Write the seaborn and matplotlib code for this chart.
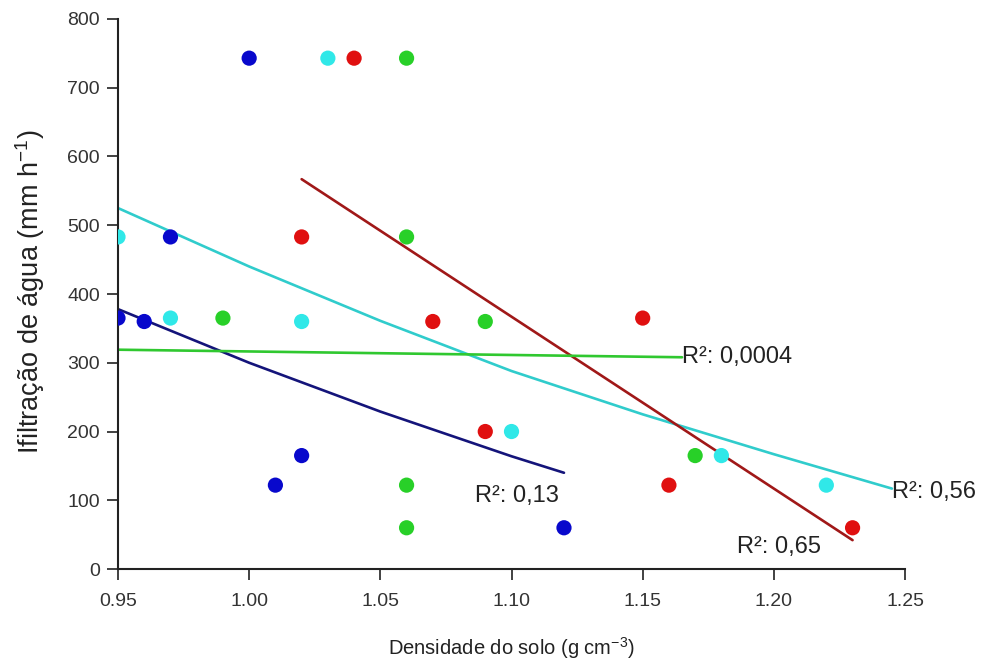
import pandas as pd
import matplotlib
matplotlib.use("Agg")
import matplotlib.pyplot as plt
import seaborn as sns

# observed points per group
blue_x = [0.95, 0.96, 0.97, 1.00, 1.01, 1.02, 1.12]
blue_y = [365, 360, 483, 743, 122, 165, 60]
cyan_x = [0.95, 0.97, 1.02, 1.03, 1.10, 1.18, 1.22]
cyan_y = [483, 365, 360, 743, 200, 165, 122]
red_x = [1.02, 1.04, 1.07, 1.09, 1.15, 1.16, 1.23]
red_y = [483, 743, 360, 200, 365, 122, 60]
green_x = [0.99, 1.06, 1.06, 1.06, 1.06, 1.09, 1.17]
green_y = [365, 743, 483, 122, 60, 360, 165]

# trend lines
blue_fit_x = [0.95, 1.00, 1.05, 1.10, 1.12]
blue_fit_y = [378, 300, 229, 164, 140]
cyan_fit_x = [0.95, 1.00, 1.05, 1.10, 1.15, 1.20, 1.245]
cyan_fit_y = [525, 440, 361, 288, 225, 167, 117]
red_fit_x = [1.02, 1.23]
red_fit_y = [567, 42]
green_fit_x = [0.95, 1.165]
green_fit_y = [319, 308]

r2_labels = ["R²: 0,13", "R²: 0,56", "R²: 0,65", "R²: 0,0004"]
r2_x = [1.086, 1.245, 1.186, 1.165]
r2_y = [106, 112, 32, 308]

groups = ["azul", "ciano", "vermelho", "verde"]
point_colors = {"azul": "#0808cc", "ciano": "#30e8e8", "vermelho": "#e01010", "verde": "#28d028"}
line_colors = {"azul": "#14147a", "ciano": "#30cccc", "vermelho": "#a01818", "verde": "#30c830"}

pts = pd.concat([
    pd.DataFrame({"x": blue_x, "y": blue_y, "g": "azul"}),
    pd.DataFrame({"x": cyan_x, "y": cyan_y, "g": "ciano"}),
    pd.DataFrame({"x": red_x, "y": red_y, "g": "vermelho"}),
    pd.DataFrame({"x": green_x, "y": green_y, "g": "verde"}),
], ignore_index=True)

fits = pd.concat([
    pd.DataFrame({"x": blue_fit_x, "y": blue_fit_y, "g": "azul"}),
    pd.DataFrame({"x": cyan_fit_x, "y": cyan_fit_y, "g": "ciano"}),
    pd.DataFrame({"x": red_fit_x, "y": red_fit_y, "g": "vermelho"}),
    pd.DataFrame({"x": green_fit_x, "y": green_fit_y, "g": "verde"}),
], ignore_index=True)

sns.set_style("ticks")
plt.rcParams["font.family"] = ["Liberation Sans", "DejaVu Sans"]
plt.rcParams["mathtext.default"] = "regular"

fig = plt.figure(figsize=(9.89, 6.66), dpi=100)
ax = fig.add_axes([0.1193, 0.1456, 0.7958, 0.8259])

sns.lineplot(data=fits, x="x", y="y", hue="g", palette=line_colors, hue_order=groups,
             linewidth=1.9, legend=False, ax=ax, sort=False, estimator=None)
sns.scatterplot(data=pts, x="x", y="y", hue="g", palette=point_colors, hue_order=groups,
                s=120, edgecolor="none", legend=False, ax=ax, zorder=3)

for txt, tx, ty in zip(r2_labels, r2_x, r2_y):
    ax.text(tx, ty, txt, fontsize=17, color="#222222", ha="left", va="center")

ax.set_xlim(0.95, 1.25)
ax.set_ylim(0, 800)
ax.set_xticks([0.95, 1.00, 1.05, 1.10, 1.15, 1.20, 1.25])
ax.set_xticklabels(["0.95", "1.00", "1.05", "1.10", "1.15", "1.20", "1.25"])
ax.set_yticks(range(0, 801, 100))
ax.tick_params(axis="both", labelsize=14, colors="#333333", length=8, width=1.3, pad=5)
ax.tick_params(axis="x", pad=9)
for side in ["left", "bottom"]:
    ax.spines[side].set_color("#222222")
    ax.spines[side].set_linewidth(1.5)
sns.despine(ax=ax)
for sp in ax.spines.values():
    sp.set_clip_on(False)

ax.set_xlabel("Densidade do solo (g cm$^{-3}$)", fontsize=14.5, color="#222222")
ax.set_ylabel("Ifiltração de água (mm h$^{-1}$)", fontsize=19.5, color="#222222")
ax.xaxis.set_label_coords(0.5, -0.12)
ax.yaxis.set_label_coords(-0.09, 0.505)

fig.savefig("out.png", dpi=100)
